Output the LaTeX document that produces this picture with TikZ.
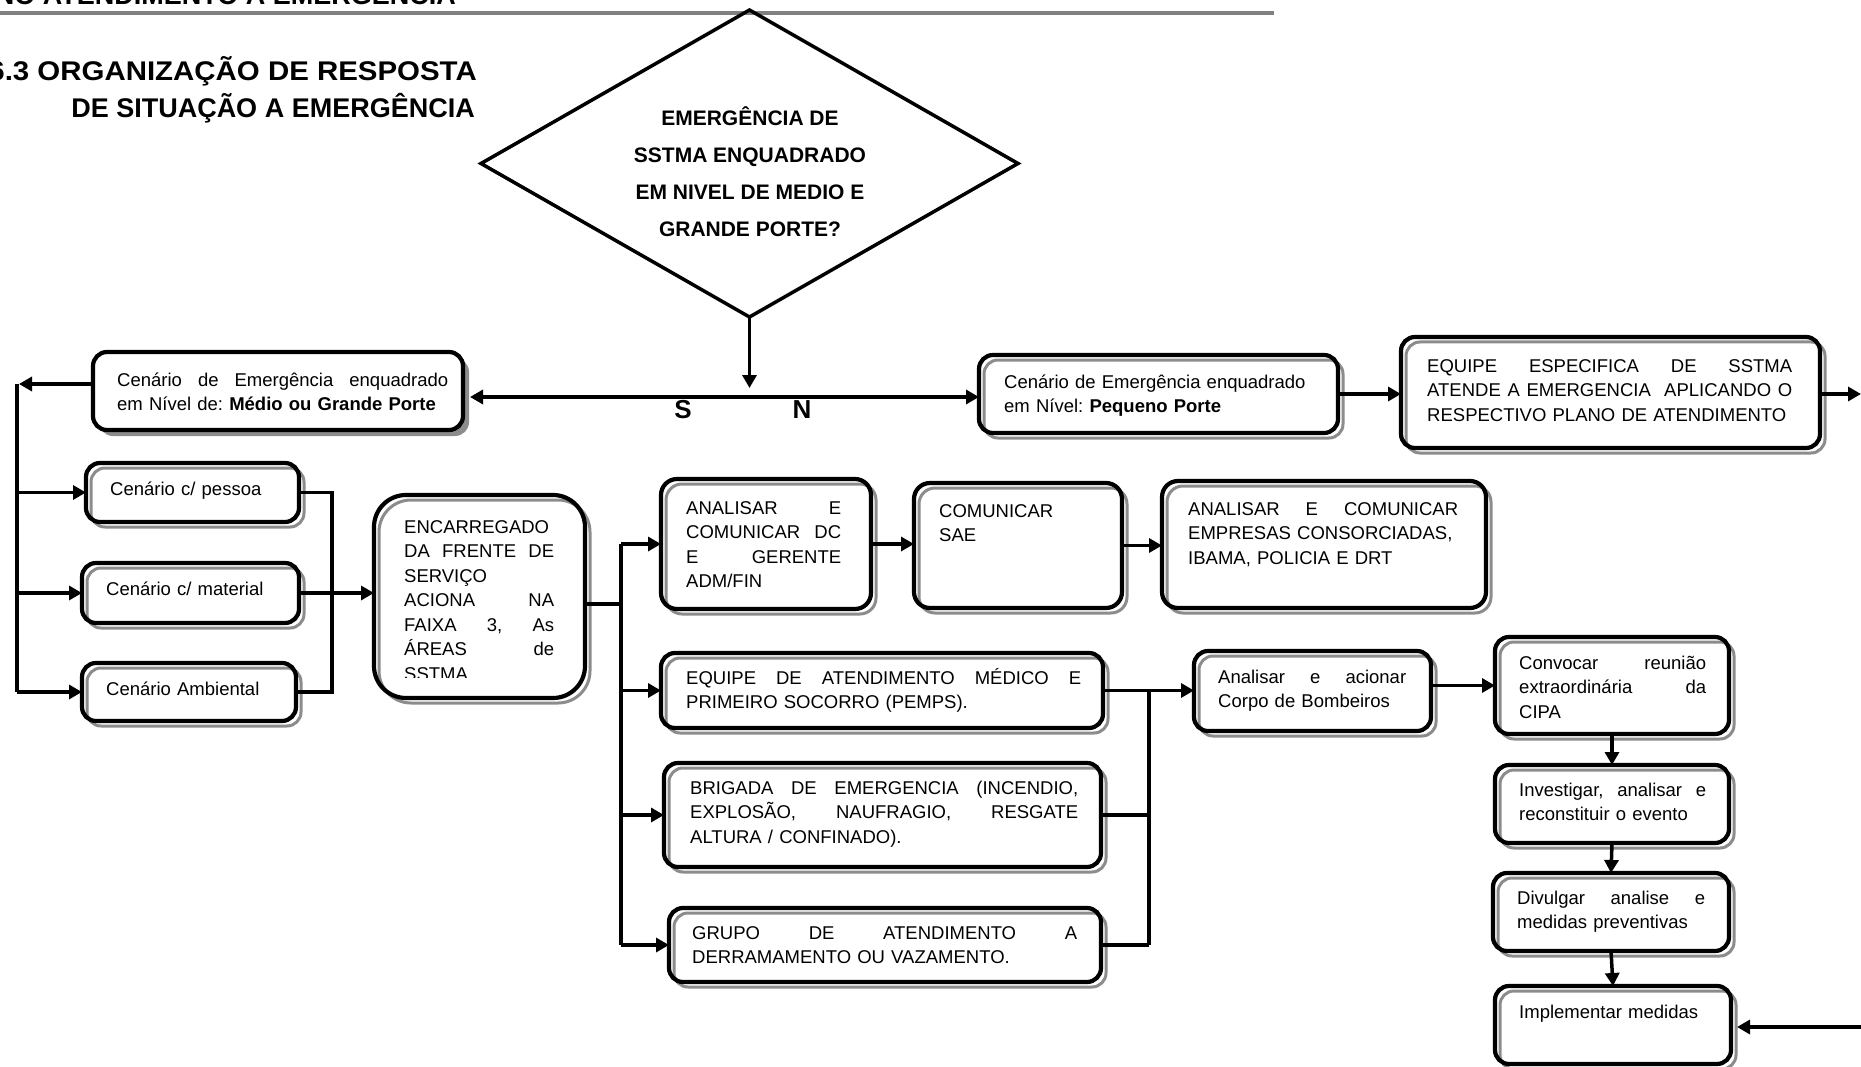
\documentclass[tikz,border=0pt]{standalone}
\usepackage{fontspec}
\usepackage{graphicx}
\setmainfont{Liberation Sans}
\usetikzlibrary{arrows.meta,shapes.geometric,calc}
\definecolor{shd}{gray}{0.55}
\definecolor{rulegray}{gray}{0.5}
\newlength\tw
\newcommand\jl[1]{\makebox[\tw][s]{\spaceskip=0pt\xspaceskip=0pt #1}}
% #1 radius, #2 name, #3 x1, #4 y1, #5 x2, #6 y2
\newcommand\shbox[6][14]{%
  \draw[shdline, rounded corners=#1pt] (#3+5,#4+5) rectangle (#5+5,#6+5);
  \node[bx, rounded corners=#1pt, anchor=north west, minimum width=#5pt-#3pt, minimum height=#6pt-#4pt] (#2) at (#3,#4) {};}
% name, left, top, width, content
\newcommand\tx[5]{\setlength\tw{#4pt}\node[txt, text width=#4pt] (#1) at (#2,#3) {\strut#5};}
\tikzset{
  conn/.style={line width=3.5pt, black},
  arr/.style={conn, -{Triangle[length=13pt,width=14pt]}},
  darr/.style={conn, {Triangle[length=13pt,width=14pt]}-{Triangle[length=13pt,width=14pt]}},
  bx/.style={draw, line width=4.2pt, inner sep=0pt, outer sep=0pt},
  shdline/.style={draw=shd, line width=3pt},
  txt/.style={anchor=north west, inner sep=0pt, align=left, font=\fontsize{18.5pt}{24.5pt}\selectfont},
  big/.style={inner sep=0pt, font=\fontsize{27pt}{32pt}\selectfont\bfseries},
}
\begin{document}
\frenchspacing
\begin{tikzpicture}[x=1pt,y=-1pt]
\useasboundingbox (0,0) rectangle (1861,1067);
\fill[white] (0,0) rectangle (1861,1067);
\clip (0,0) rectangle (1861,1067);

% header and title
\node[big, anchor=base east] (hdr) at (456,4.5) {NO ATENDIMENTO A EMERGÊNCIA};
\fill[rulegray] (0,11.5) rectangle (1274,15.5);
\node[big, anchor=base east] (tit1) at (477,81) {\scalebox{1.09}[1]{6.3 ORGANIZAÇÃO DE RESPOSTA}};
\node[big, anchor=base east] (tit2) at (475,118) {DE SITUAÇÃO A EMERGÊNCIA};

% decision diamond
\node[draw, diamond, line width=3.5pt, minimum width=537pt, minimum height=307pt, inner sep=0pt, outer sep=0pt] (D) at (749.5,163.5) {};
\node[anchor=north, align=center, inner sep=0pt, font=\fontsize{21pt}{37pt}\selectfont\bfseries] (Dt) at (750,99)
  {\strut EMERGÊNCIA DE\\SSTMA ENQUADRADO\\EM NIVEL DE MEDIO E\\GRANDE PORTE?};
\coordinate (dd) at (749.5,388);
\draw[arr] (D.south) -- (dd);

% Medio/Grande box (filled shadow)
\fill[shd, rounded corners=14pt] (99,358) rectangle (469,436);
\node[bx, fill=white, rounded corners=14pt, anchor=north west, minimum width=370pt, minimum height=78pt] (B1) at (93,352) {};
\tx{B1t}{117}{369}{331}{\jl{Cenário de Emergência enquadrado}\\em Nível de: \textbf{Médio ou Grande Porte}}

% other boxes
\shbox{B3}{979}{355}{1338}{433}
\tx{B3t}{1004}{371}{320}{Cenário de Emergência enquadrado\\em Nível: \textbf{Pequeno Porte}}
\shbox{B4}{1401}{337}{1820}{448}
\tx{B4t}{1427}{355}{365}{\jl{EQUIPE ESPECIFICA DE SSTMA}\\\jl{ATENDE A EMERGENCIA\ \ APLICANDO O}\\RESPECTIVO PLANO DE ATENDIMENTO}

\shbox{Bpes}{86}{463}{299}{522}
\tx{Bpest}{110}{478}{180}{Cenário c/ pessoa}
\shbox{Bmat}{82}{563}{299}{623}
\tx{Bmatt}{106}{578}{180}{Cenário c/ material}
\shbox{Bamb}{82}{663}{296}{721}
\tx{Bambt}{106}{678}{180}{Cenário Ambiental}

\shbox[32]{ENC}{374}{495}{585}{698}
\begin{scope}
\clip (390,500) rectangle (575,677);
\tx{ENCt}{404}{516}{150}{ENCARREGADO\\\jl{DA FRENTE DE}\\SERVIÇO\\\jl{ACIONA NA}\\\jl{FAIXA 3, As}\\\jl{ÁREAS de}\\SSTMA}
\end{scope}

\shbox[16]{ANA1}{661}{479}{871}{609}
\tx{ANA1t}{686}{497}{155}{\jl{ANALISAR E}\\\jl{COMUNICAR DC}\\\jl{E GERENTE}\\ADM/FIN}
\shbox[16]{SAE}{914}{483}{1122}{608}
\tx{SAEt}{939}{500}{160}{COMUNICAR\\SAE}
\shbox[16]{ANA2}{1162}{481}{1486}{608}
\tx{ANA2t}{1188}{498}{270}{\jl{ANALISAR E COMUNICAR}\\EMPRESAS CONSORCIADAS,\\IBAMA, POLICIA E DRT}

\shbox{MED}{661}{653}{1103}{728}
\tx{MEDt}{686}{667}{395}{\jl{EQUIPE DE ATENDIMENTO MÉDICO E}\\PRIMEIRO SOCORRO (PEMPS).}
\shbox{BRI}{664}{763}{1101}{867}
\tx{BRIt}{690}{777}{388}{\jl{BRIGADA DE EMERGENCIA (INCENDIO,}\\\jl{EXPLOSÃO, NAUFRAGIO, RESGATE}\\ALTURA / CONFINADO).}
\shbox{GRU}{669}{908}{1101}{982}
\tx{GRUt}{692}{922}{385}{\jl{GRUPO DE ATENDIMENTO A}\\DERRAMAMENTO OU VAZAMENTO.}

\shbox{COR}{1194}{651}{1431}{731}
\tx{CORt}{1218}{666}{188}{\jl{Analisar e acionar}\\Corpo de Bombeiros}
\shbox{CON}{1495}{637}{1729}{734}
\tx{CONt}{1519}{652}{187}{\jl{Convocar reunião}\\\jl{extraordinária da}\\CIPA}
\shbox{INV}{1495}{765}{1729}{843}
\tx{INVt}{1519}{779}{187}{\jl{Investigar, analisar e}\\reconstituir o evento}
\shbox{DIV}{1493}{873}{1729}{951}
\tx{DIVt}{1517}{887}{188}{\jl{Divulgar analise e}\\medidas preventivas}
\shbox{IMP}{1495}{986}{1731}{1064}
\tx{IMPt}{1519}{1001}{190}{Implementar medidas}

% S / N line
\coordinate (hl) at (0,397);
\draw[darr, shorten <=7pt] (B1.east |- hl) -- (B3.west |- hl);
\node[inner sep=0pt, anchor=base, font=\fontsize{26pt}{30pt}\selectfont\bfseries] (S) at (683,418) {S};
\node[inner sep=0pt, anchor=base, font=\fontsize{26pt}{30pt}\selectfont\bfseries] (N) at (802,418) {N};

% right chain top
\draw[arr] (B3.east) -- (B4.west |- B3.east);
\coordinate (e1) at (1861,394);
\draw[arr] (B4.east |- e1) -- (e1);

% left spine
\coordinate (j1) at (17,384);
\draw[arr] (B1.west |- j1) -- ($(j1)+(2,0)$);
\draw[conn] (j1) -- (j1 |- Bamb.west);
\draw[arr] (j1 |- Bpes.west) -- (Bpes.west);
\draw[arr] (j1 |- Bmat.west) -- (Bmat.west);
\draw[arr] (j1 |- Bamb.west) -- (Bamb.west);

% bracket to ENC
\coordinate (k1) at (332,0);
\draw[conn] (Bpes.east) -- (k1 |- Bpes.east) -- (k1 |- Bamb.east) -- (Bamb.east);
\draw[arr] (Bmat.east) -- (ENC.west |- Bmat.east);

% ENC spine
\coordinate (j2) at (621,604);
\draw[conn] (ENC.east |- j2) -- (j2);
\draw[conn] (j2 |- ANA1.west) -- (j2 |- GRU.west);
\draw[arr] (j2 |- ANA1.west) -- (ANA1.west);
\draw[arr] (j2 |- MED.west) -- (MED.west);
\draw[arr] (j2 |- BRI.west) -- (BRI.west);
\draw[arr] (j2 |- GRU.west) -- (GRU.west);

\draw[arr] (ANA1.east) -- (SAE.west |- ANA1.east);
\draw[arr] (SAE.east) -- (ANA2.west |- SAE.east);

% right spine
\coordinate (j3) at (1149,0);
\draw[arr] (MED.east) -- (COR.west |- MED.east);
\draw[conn] (j3 |- MED.east) -- (j3 |- GRU.east);
\draw[conn] (BRI.east) -- (j3 |- BRI.east);
\draw[conn] (GRU.east) -- (j3 |- GRU.east);

\draw[arr] (COR.east |- CON.west) -- (CON.west);
\draw[arr] (CON.south) -- (INV.north);
\draw[arr] (INV.south) -- (DIV.north);
\draw[arr] (DIV.south) -- (IMP.north);
\coordinate (e2) at (1861,1027);
\draw[arr, shorten >=6pt] (e2) -- (IMP.east |- e2);
\end{tikzpicture}
\end{document}
